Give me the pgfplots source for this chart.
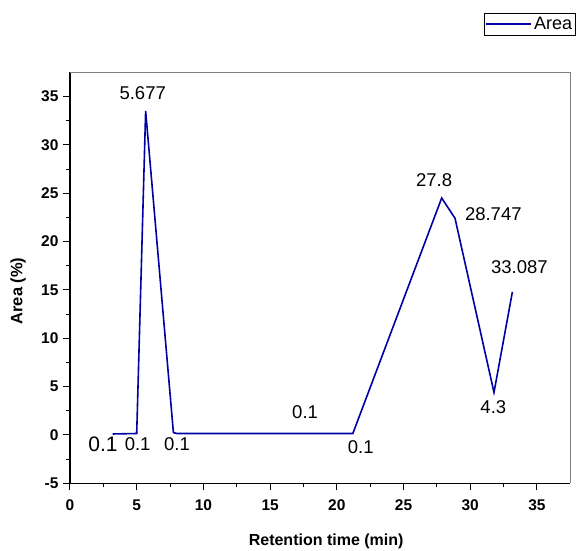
\documentclass[border=0pt]{standalone}
\usepackage{fontspec}
\setmainfont{Liberation Sans}
\usepackage{pgfplots}
\pgfplotsset{compat=1.18}

\definecolor{areablue}{RGB}{0,0,165}
\definecolor{framegray}{RGB}{128,128,128}

\begin{document}
\begin{tikzpicture}
% page frame in px-like units (1px = 1pt), axis lower left at (0,0)
\useasboundingbox (-70pt,-66.7pt) rectangle (511pt,483.3pt);
\begin{axis}[
    scale only axis,
    width=500.3pt, height=411pt,
    xmin=0, xmax=37.5,
    ymin=-5, ymax=37.5,
    xtick={0,5,...,35},
    ytick={-5,0,...,35},
    minor tick num=1,
    axis lines*=left,
    axis line style={-, line width=1.2pt, black},
    tick align=outside,
    major tick length=7pt,
    minor tick length=4pt,
    tick style={line width=1pt, black},
    ticklabel style={font=\fontsize{15.5}{17}\selectfont\bfseries},
    xticklabel style={yshift=-6pt},
    yticklabel style={xshift=-1pt},
    /pgf/number format/assume math mode=true,
    xlabel={Retention time (min)},
    ylabel={Area (\%)},
    xlabel style={font=\fontsize{16}{18}\selectfont\bfseries,
        at={(axis description cs:0.512,-0.1404)}, anchor=center},
    ylabel style={font=\fontsize{16.5}{18}\selectfont\bfseries,
        at={(axis description cs:-0.1039,0.468)}, anchor=center, rotate=0},
    clip=false,
    legend style={at={(axis description cs:0.919,1.1175)}, anchor=center,
        draw=black, line width=0.8pt, fill=white,
        font=\fontsize{18}{20}\selectfont, inner xsep=1.5pt, inner ysep=2pt,
        legend cell align=left},
    legend image code/.code={\draw[#1, line width=1.6pt] (0pt,0pt) -- (45pt,0pt);},
]
\addplot[color=areablue, line width=1.6pt, mark=none] coordinates {
    (3.2,0.1) (5.0,0.15) (5.67,33.5) (7.75,0.25) (8.0,0.15)
    (21.2,0.15) (27.86,24.5) (28.86,22.4) (31.78,4.4) (33.16,14.8)
};
\addlegendentry{Area}

% gray top and right frame
\draw[framegray, line width=1pt] (rel axis cs:0,1) -- (rel axis cs:1,1) -- (rel axis cs:1,0);

% point labels
\tikzset{lbl/.style={font=\fontsize{18.5}{20}\selectfont, inner sep=0pt}}
\node[font=\fontsize{21}{23}\selectfont, inner sep=0pt] at (axis cs:2.47,-0.96) {0.1};
\node[lbl] at (axis cs:5.07,-0.96) {0.1};
\node[lbl] at (axis cs:8.02,-0.96) {0.1};
\node[lbl] at (axis cs:17.62,2.38) {0.1};
\node[lbl] at (axis cs:21.79,-1.27) {0.1};
\node[lbl] at (axis cs:5.45,35.3) {5.677};
\node[lbl] at (axis cs:27.29,26.37) {27.8};
\node[lbl] at (axis cs:31.73,22.82) {28.747};
\node[lbl] at (axis cs:33.68,17.31) {33.087};
\node[lbl] at (axis cs:31.73,2.83) {4.3};
\end{axis}
\end{tikzpicture}
\end{document}
